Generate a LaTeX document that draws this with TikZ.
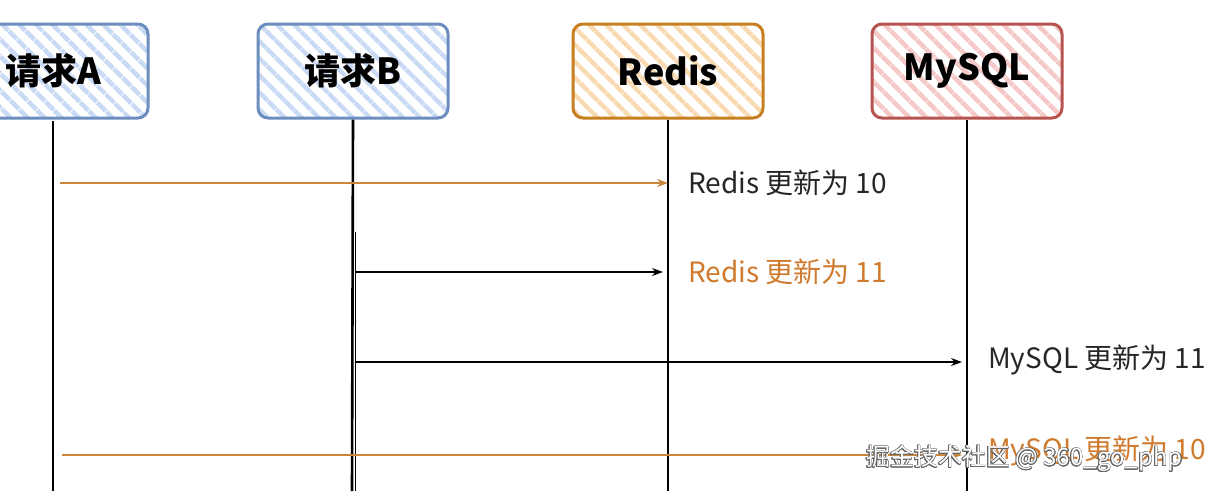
\documentclass[tikz,border=0pt]{standalone}
\usepackage{fontspec}
\setmainfont{Noto Sans CJK SC}
\usepackage{contour}
\contourlength{0.6pt}
\usetikzlibrary{arrows.meta,patterns.meta}
\definecolor{bluebd}{HTML}{6C8EBF}
\definecolor{bluefl}{HTML}{C9DAF5}
\definecolor{orgbd}{HTML}{C7801F}
\definecolor{orgfl}{HTML}{F9D9B0}
\definecolor{redbd}{HTML}{B85450}
\definecolor{redfl}{HTML}{F5C9C8}
\definecolor{orgln}{HTML}{C8873A}
\definecolor{orgtx}{HTML}{CF7A2C}
\tikzset{
  actor/.style={draw=#1bd, line width=3pt, rounded corners=10pt, minimum width=190pt, minimum height=94pt,
    pattern={Lines[angle=-45,distance=13pt,line width=5pt]}, pattern color=#1fl,
    font=\fontsize{36}{40}\selectfont\bfseries, inner sep=0pt},
  life/.style={line width=2.6pt, black},
  msg/.style={line width=1.3pt, -{Stealth[length=11pt,width=8pt]}},
  lbl/.style={anchor=west, font=\fontsize{28}{32}\selectfont, inner sep=0pt},
}
\newcommand{\boxtxt}[1]{\raisebox{-6pt}{#1}}
\begin{document}
\begin{tikzpicture}[x=1pt,y=-1pt]
\useasboundingbox (0,0) rectangle (1215,491);
\fill[white] (0,0) rectangle (1215,491);
% actors
\node[actor=blue] (A) at (53,71) {\boxtxt{请求A}};
\node[actor=blue] (B) at (353,71) {\boxtxt{请求B}};
\node[actor=org] (R) at (668,71) {\boxtxt{Redis}};
\node[actor=red] (M) at (967,71) {\boxtxt{MySQL}};
% lifeline ends
\coordinate (Ae) at (53,491);
\coordinate (Be) at (352,491);
\coordinate (Re) at (668,491);
\coordinate (Me) at (967,491);
\coordinate (Bm) at (355.5,232);
\coordinate (Bme) at (355.5,491);
\draw[life] (A.south) -- (Ae);
\draw[life] (B.south) -- (Be);
\draw[life, line width=1.8pt] (Bm) -- (Bme);
\draw[life] (R.south) -- (Re);
\draw[life] (M.south) -- (Me);
% message endpoints
\coordinate (a1) at (60,183);
\coordinate (r1) at (668,183);
\coordinate (b2) at (356,272);
\coordinate (r2) at (663,272);
\coordinate (b3) at (356,362);
\coordinate (m3) at (962,362);
\coordinate (a4) at (62,455);
\coordinate (m4) at (962,455);
\draw[msg, orgln] (a1) -- (r1);
\draw[msg, black] (b2) -- (r2);
\draw[msg, black] (b3) -- (m3);
\draw[msg, orgln] (a4) -- (m4);
% labels
\node[lbl, text=black!85] (t1) at (688,183) {Redis 更新为 10};
\node[lbl, text=orgtx] (t2) at (688,272) {Redis 更新为 11};
\node[lbl, text=black!85] (t3) at (988,360) {MySQL 更新为 11};
\node[lbl, text=orgtx] (t4) at (988,451) {MySQL 更新为 10};
% watermark
\node[anchor=west, inner sep=0pt, font=\fontsize{24}{28}\selectfont] (wm) at (866,459) {\contour{black!60}{\textcolor{white}{掘金技术社区 @ 360\_go\_php}}};
\end{tikzpicture}
\end{document}
